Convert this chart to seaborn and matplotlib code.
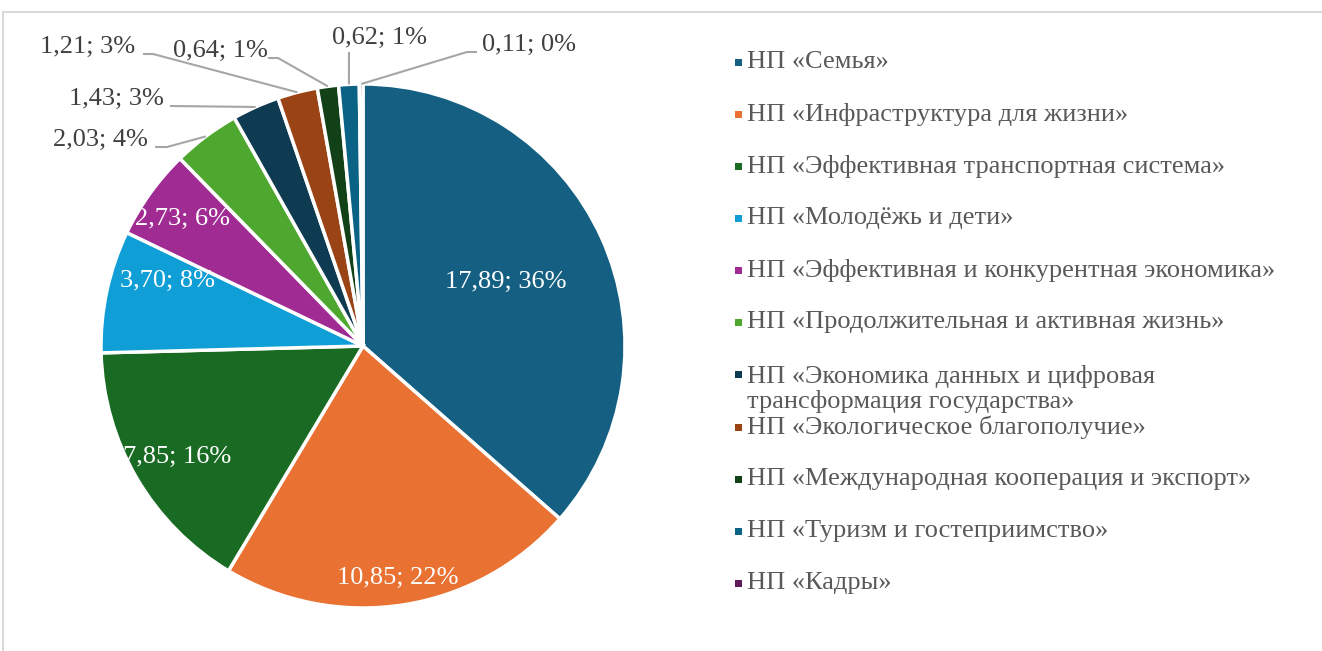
import matplotlib
matplotlib.use("Agg")
import matplotlib.pyplot as plt
import seaborn as sns
from matplotlib.patches import Rectangle
import numpy as np

categories = [
    "НП «Семья»",
    "НП «Инфраструктура для жизни»",
    "НП «Эффективная транспортная система»",
    "НП «Молодёжь и дети»",
    "НП «Эффективная и конкурентная экономика»",
    "НП «Продолжительная и активная жизнь»",
    "НП «Экономика данных и цифровая\nтрансформация государства»",
    "НП «Экологическое благополучие»",
    "НП «Международная кооперация и экспорт»",
    "НП «Туризм и гостеприимство»",
    "НП «Кадры»",
]
values = [17.89, 10.85, 7.85, 3.70, 2.73, 2.03, 1.43, 1.21, 0.64, 0.62, 0.11]
value_labels = ["17,89", "10,85", "7,85", "3,70", "2,73", "2,03", "1,43", "1,21", "0,64", "0,62", "0,11"]
percent_labels = ["36%", "22%", "16%", "8%", "6%", "4%", "3%", "3%", "1%", "1%", "0%"]
colors = ["#156082", "#E97132", "#196B24", "#0F9ED5", "#A02B93", "#4EA72E",
          "#0E3A52", "#9A4314", "#124118", "#0A6284", "#5F1A58"]

sns.set_theme(style="white")
plt.rcParams['font.family'] = ['Liberation Serif', 'DejaVu Serif']

W, H = 1322, 651
fig = plt.figure(figsize=(13.22, 6.51), dpi=100)
fig.patch.set_facecolor("white")

# outer chart frame
fig.add_artist(Rectangle((3 / W, -0.1), 1.5, (H - 12) / H + 0.1, transform=fig.transFigure,
                         fill=False, edgecolor="#D9D9D9", lw=1.5))

cx, cy, R = 363, 346, 262
ax = fig.add_axes([(cx - R) / W, (H - cy - R) / H, 2 * R / W, 2 * R / H])
wedges, _ = ax.pie(values, colors=colors, startangle=90, counterclock=False, radius=1,
                   wedgeprops=dict(edgecolor="white", linewidth=2.5))
ax.set_xlim(-1, 1)
ax.set_ylim(-1, 1)
ax.set_aspect("equal")
ax.axis("off")


def p2d(px, py):
    return ((px - cx) / R, (cy - py) / R)


fs = 19
label_text = [f"{v}; {p}" for v, p in zip(value_labels, percent_labels)]

# inside labels (layout positions in pixels)
inside_pos = {0: (506, 282), 1: (398, 578), 2: (177, 457), 3: (168, 281), 4: (183, 219)}
for i, (px, py) in inside_pos.items():
    x, y = p2d(px, py)
    ax.text(x, y, label_text[i], ha="center", va="center", color="white", fontsize=fs)

# outside labels: text center, line start, optional elbow
outside = {
    5: ((100, 140), (155, 147), (167, 147)),
    6: ((116, 99), (170, 106), None),
    7: ((88, 47), (143, 54), (153, 54)),
    8: ((220, 51), (268, 58), (278, 58)),
    9: ((380, 38), (349, 52), None),
    10: ((529, 45), (477, 52), (467, 52)),
}
for i, (tpos, start, elbow) in outside.items():
    x, y = p2d(*tpos)
    ax.text(x, y, label_text[i], ha="center", va="center", color="#404040", fontsize=fs)
    w = wedges[i]
    mid = np.deg2rad((w.theta1 + w.theta2) / 2)
    end = (np.cos(mid) * 1.0, np.sin(mid) * 1.0)
    pts = [p2d(*start)]
    if elbow is not None:
        pts.append(p2d(*elbow))
    pts.append(end)
    xs, ys = zip(*pts)
    ax.plot(xs, ys, color="#A6A6A6", lw=1.5, clip_on=False, solid_capstyle="butt")

# legend (manual layout)
row_y = [62, 114, 166, 218, 270, 322, 374, 427, 479, 531, 583]
for cat, col, ry in zip(categories, colors, row_y):
    fig.add_artist(Rectangle((735 / W, (H - ry - 4) / H), 7 / W, 7 / H, transform=fig.transFigure,
                             facecolor=col, edgecolor="none"))
    nlines = cat.count("\n") + 1
    ty = ry + (nlines - 1) * 15
    fig.text(747 / W, (H - ty) / H, cat, ha="left", va="center", color="#595959",
             fontsize=fs, linespacing=1.14)

fig.savefig("out.png", dpi=100, facecolor="white")
